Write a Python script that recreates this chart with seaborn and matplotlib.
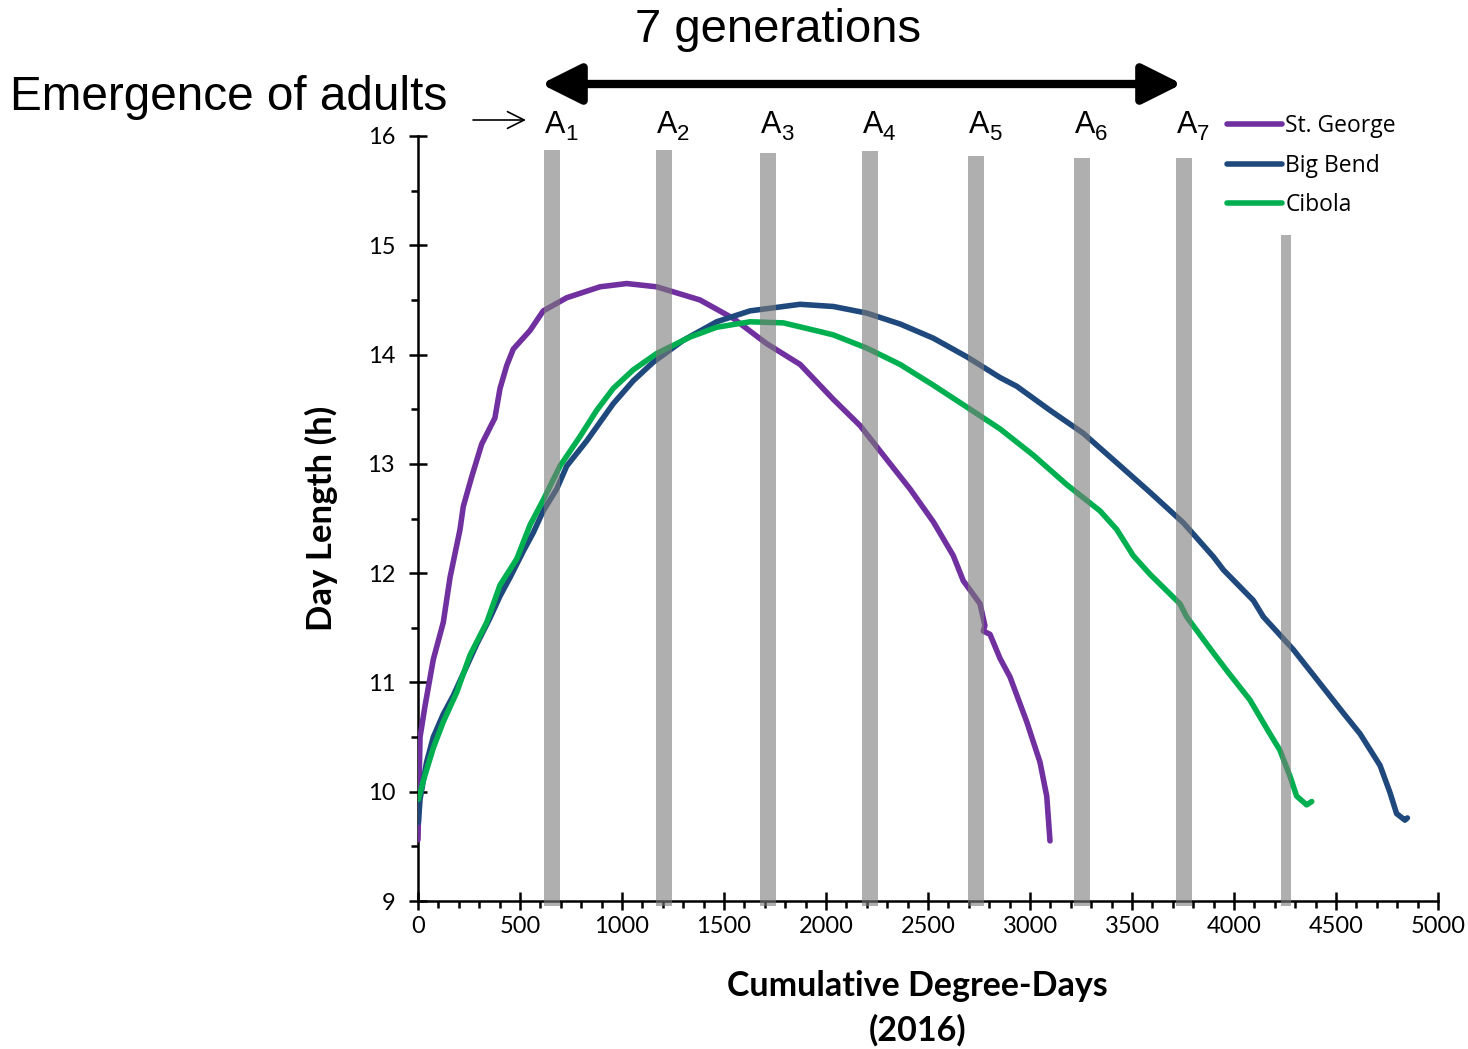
import numpy as np
import pandas as pd
import matplotlib
matplotlib.use("Agg")
import matplotlib.pyplot as plt
import seaborn as sns
from matplotlib.patches import FancyArrowPatch
from matplotlib.ticker import MultipleLocator
from matplotlib.transforms import offset_copy

# ---------------- data ----------------
stg_x = [0, 10, 34, 75, 124, 157, 206, 222, 263, 312, 377, 402, 435, 467, 549, 614,
         729, 892, 1023, 1170, 1382, 1546, 1709, 1873, 2036, 2167, 2281, 2412, 2526,
         2624, 2673, 2755, 2779, 2771, 2804, 2853, 2902, 2984, 3049, 3082, 3098]
stg_y = [9.56, 10.50, 10.78, 11.21, 11.55, 11.96, 12.40, 12.61, 12.88, 13.18, 13.42,
         13.69, 13.90, 14.05, 14.22, 14.40, 14.52, 14.62, 14.65, 14.62, 14.50, 14.33,
         14.10, 13.91, 13.59, 13.35, 13.08, 12.77, 12.47, 12.16, 11.93, 11.72, 11.52,
         11.47, 11.44, 11.22, 11.05, 10.64, 10.27, 9.96, 9.55]

bb_x = [2, 10, 42, 75, 124, 173, 222, 288, 353, 402, 451, 516, 565, 614, 680, 729,
        827, 892, 957, 1055, 1153, 1300, 1464, 1628, 1873, 2036, 2199, 2363, 2526,
        2690, 2853, 2935, 3098, 3261, 3425, 3588, 3752, 3899, 3948, 4095, 4144, 4291,
        4422, 4536, 4618, 4716, 4765, 4797, 4838, 4850]
bb_y = [9.72, 9.93, 10.27, 10.50, 10.71, 10.88, 11.08, 11.35, 11.59, 11.79, 11.96,
        12.20, 12.37, 12.57, 12.77, 12.98, 13.21, 13.38, 13.55, 13.76, 13.93, 14.13,
        14.30, 14.40, 14.46, 14.44, 14.38, 14.28, 14.15, 13.98, 13.79, 13.71, 13.49,
        13.28, 13.01, 12.74, 12.46, 12.15, 12.03, 11.75, 11.60, 11.30, 10.99, 10.72,
        10.53, 10.24, 9.99, 9.80, 9.74, 9.76]

cib_x = [2, 26, 75, 124, 190, 255, 337, 402, 484, 549, 614, 696, 794, 876, 957, 1055,
         1170, 1333, 1464, 1628, 1791, 1971, 2036, 2199, 2363, 2526, 2690, 2853, 3016,
         3180, 3343, 3425, 3506, 3588, 3735, 3768, 3899, 3964, 4078, 4176, 4225, 4275,
         4307, 4356, 4381]
cib_y = [9.93, 10.10, 10.40, 10.64, 10.91, 11.25, 11.55, 11.89, 12.13, 12.44, 12.67,
         12.98, 13.25, 13.49, 13.69, 13.86, 14.01, 14.16, 14.25, 14.30, 14.29, 14.21,
         14.18, 14.06, 13.91, 13.72, 13.52, 13.32, 13.08, 12.81, 12.57, 12.40, 12.16,
         11.99, 11.72, 11.60, 11.27, 11.11, 10.84, 10.53, 10.38, 10.14, 9.96, 9.88, 9.91]

sites = ["St. George", "Big Bend", "Cibola"]
site_colors = ["#7030A0", "#1F497D", "#00B050"]

gen_x = [657, 1206, 1716, 2216, 2735, 3255, 3755, 4255]
gen_top = [15.87, 15.87, 15.84, 15.86, 15.82, 15.80, 15.80, 15.09]
gen_labels = ["1", "2", "3", "4", "5", "6", "7"]

xticks = [0, 500, 1000, 1500, 2000, 2500, 3000, 3500, 4000, 4500, 5000]
yticks = [9, 10, 11, 12, 13, 14, 15, 16]

# ---------------- build long table ----------------
df = pd.concat([
    pd.DataFrame({"dd": stg_x, "day": stg_y, "site": sites[0]}),
    pd.DataFrame({"dd": bb_x, "day": bb_y, "site": sites[1]}),
    pd.DataFrame({"dd": cib_x, "day": cib_y, "site": sites[2]}),
], ignore_index=True)

sns.set_theme(style="white")
plt.rcParams["font.family"] = ["Lato", "DejaVu Sans"]
for k in ["text.color", "axes.labelcolor", "xtick.color", "ytick.color"]:
    plt.rcParams[k] = "black"

W, H = 1468, 1049
fig = plt.figure(figsize=(W / 100, H / 100), dpi=100)
ax = fig.add_axes([418 / W, 1 - 901 / H, 1020 / W, 765 / H])

sns.lineplot(data=df, x="dd", y="day", hue="site", hue_order=sites,
             palette=dict(zip(sites, site_colors)), sort=False, estimator=None,
             linewidth=4.0, ax=ax, zorder=3)
for ln in ax.get_lines():
    ln.set_solid_joinstyle("round")
    ln.set_solid_capstyle("round")

# gray emergence bars (on top, semi-transparent)
widths = [75] * 7 + [50]
for xc, top, w in zip(gen_x, gen_top, widths):
    ax.bar(xc, top - 8.95, bottom=8.95, width=w, color="#7B7B7B", alpha=0.6,
           linewidth=0, zorder=4, clip_on=False)

ax.set_xlim(0, 5000)
ax.set_ylim(9, 16)
ax.set_xticks(xticks)
ax.set_yticks(yticks)
ax.xaxis.set_minor_locator(MultipleLocator(100))
ax.yaxis.set_minor_locator(MultipleLocator(0.5))
for s in ["top", "right"]:
    ax.spines[s].set_visible(False)
for s in ["left", "bottom"]:
    ax.spines[s].set_color("black")
    ax.spines[s].set_linewidth(1.8)
ax.tick_params(which="major", direction="inout", length=13, width=1.8, color="black",
               labelsize=17, pad=4, left=True, bottom=True, labelcolor="black")
ax.tick_params(which="minor", direction="out", length=5, width=1.8, color="black",
               left=True, bottom=True)
ax.tick_params(axis="y", which="major", pad=10)

ax.set_ylabel("Day Length (h)", fontsize=25, fontweight="bold", color="black")
ax.yaxis.set_label_coords(-0.078, 0.5)
ax.set_xlabel("Cumulative Degree-Days\n(2016)", fontsize=24.5, fontweight="bold",
              linespacing=1.45, color="black")
ax.xaxis.set_label_coords(0.49, -0.09)
ax.xaxis.label.set_va("top")

# legend
handles, labels = ax.get_legend_handles_labels()
leg = ax.legend(handles, labels, loc="upper left", bbox_to_anchor=(1227 / W, 1 - 114 / H),
                bbox_transform=fig.transFigure, frameon=False, fontsize=16.5,
                handlelength=2.4, handletextpad=0.15, labelspacing=0.68,
                borderpad=0, borderaxespad=0)
for t in leg.get_texts():
    t.set_family(["Open Sans", "DejaVu Sans"])
    t.set_color("black")
for l in leg.get_lines():
    l.set_linewidth(4.0)
    l.set_solid_capstyle("round")

# A labels above bars
for xc, lab in zip(gen_x[:7], gen_labels):
    ax.text(xc + 15, 16.03, "A", ha="center", va="baseline",
            fontsize=22, family="Liberation Sans", color="black", clip_on=False)
    tr = offset_copy(ax.transData, fig=fig, x=7, y=-5, units="points")
    ax.text(xc + 15, 16.03, lab, ha="left", va="baseline", transform=tr,
            fontsize=16, family="Liberation Sans", color="black", clip_on=False)

# annotations
fig.text(10 / W, 1 - 97 / H, "Emergence of adults", fontsize=34.4,
         family="Liberation Sans", va="center", ha="left", color="black")
fig.text(778 / W, 1 - 30 / H, "7 generations", fontsize=34,
         family="Liberation Sans", va="center", ha="center", color="black")

small = FancyArrowPatch((473 / W, 1 - 120 / H), (526 / W, 1 - 120 / H),
                        transform=fig.transFigure, arrowstyle="->,head_length=0.6,head_width=0.3",
                        mutation_scale=20, linewidth=1.2, color="black",
                        shrinkA=0, shrinkB=0)
fig.patches.append(small)
big = FancyArrowPatch((541 / W, 1 - 84 / H), (1182 / W, 1 - 84 / H),
                      transform=fig.transFigure,
                      arrowstyle="<|-|>,head_length=1.0,head_width=0.5",
                      mutation_scale=24, linewidth=6, color="black",
                      shrinkA=0, shrinkB=0)
fig.patches.append(big)

fig.savefig("out.png", dpi=100)
